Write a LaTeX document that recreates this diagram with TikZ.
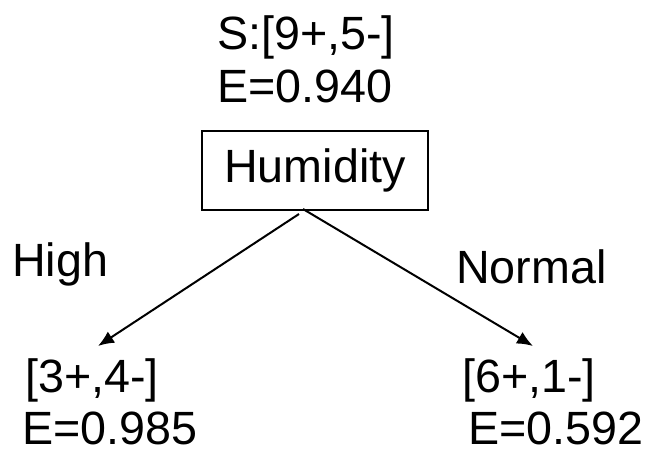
\documentclass[tikz,border=0pt]{standalone}
\usepackage{fontspec}
\usetikzlibrary{arrows.meta}
\setmainfont{Liberation Sans}
\begin{document}
\begin{tikzpicture}[x=0.75pt,y=-0.75pt,
    txt/.style={anchor=base west,inner sep=0pt,font=\fontsize{35}{40}\selectfont},
    branch/.style={line width=1.5pt,-{Latex[length=12pt,width=10pt]}}]
    \useasboundingbox (0,0) rectangle (658,457);
    \coordinate (SplitL)  at (299,214);
    \coordinate (SplitR)  at (303,209);
    \coordinate (HighEnd) at (98,346);
    \coordinate (NormEnd) at (533,346);
    % root: sample counts and entropy above the test box
    \node [txt] (RootSet) at (217,49)  {S:[9+,5-]};
    \node [txt] (RootEnt) at (217,102) {E=0.940};
    \node [draw,line width=1.1pt,inner sep=0pt,minimum width=169.5pt,minimum height=59pt,
           font=\fontsize{35}{40}\selectfont] (Humidity) at (315,170.5) {Humidity};
    % branch labels
    \node [txt] (High)   at (12,276)  {High};
    \node [txt] (Normal) at (456,283) {Normal};
    % leaves
    \node [txt] (HighSet) at (25,392)  {[3+,4-]};
    \node [txt] (HighEnt) at (22,444)  {E=0.985};
    \node [txt] (NormSet) at (462,392) {[6+,1-]};
    \node [txt] (NormEnt) at (468,444) {E=0.592};
    \draw [branch] (SplitL) -- (HighEnd);% High branch
    \draw [branch] (SplitR) -- (NormEnd);% Normal branch
\end{tikzpicture}
\end{document}
